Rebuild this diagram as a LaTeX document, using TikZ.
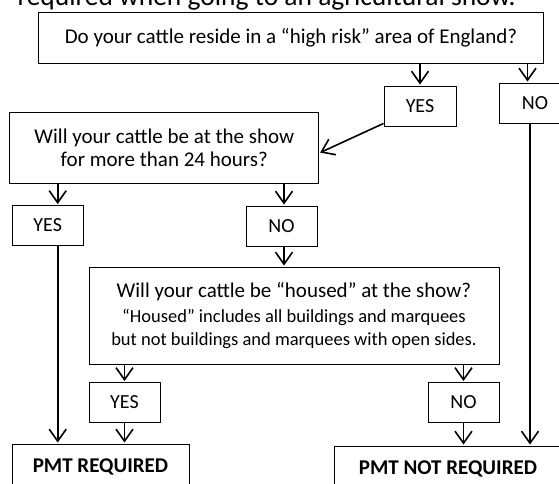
\documentclass[tikz,border=0pt]{standalone}
\usepackage{fontspec}
\setmainfont{Carlito}
\usetikzlibrary{arrows.meta}

\begin{document}
\begin{tikzpicture}[x=1pt, y=-1pt,
	box/.style = {draw, line width=0.9pt, align=center, inner sep=0pt, font=\fontsize{21}{23}\selectfont},
	answer/.style = {draw, line width=0.9pt, inner sep=0pt, minimum width=71pt, minimum height=40pt, font=\fontsize{20}{22}\selectfont},
	flow/.style = {line width=1.6pt, shorten >=1pt, -{Straight Barb[length=12pt, width=17pt]}}]
			\clip (0,0) rectangle (559,484);
			\node[anchor=base west, font=\fontsize{27.5}{30}\selectfont] (title) at (14,6) {required when going to an agricultural show.};
			
			\node[box, minimum width=505pt, minimum height=51pt] (risk) at (291,37.5) {Do your cattle reside in a “high risk” area of England?};
			\node[answer, minimum width=72pt] (yesA) at (420,106) {YES};
			\node[answer, minimum width=72pt] (noA) at (535,103) {NO};
			
			\node[box, minimum width=309pt, minimum height=71pt] (hours) at (164.3,147.5) {Will your cattle be at the show\\for more than 24 hours?};
			\node[answer] (yesB) at (47.7,225.5) {YES};
			\node[answer] (noB) at (281.5,226) {NO};
			
			\node[box, minimum width=410pt, minimum height=97pt] (housed) at (294,315.5) {Will your cattle be “housed” at the show?\\[2pt]
				{\fontsize{18.5}{22}\selectfont “Housed” includes all buildings and marquees}\\
				{\fontsize{18.5}{22}\selectfont but not buildings and marquees with open sides.}};
			\node[answer] (yesC) at (124.5,402.5) {YES};
			\node[answer] (noC) at (463.5,402.5) {NO};
			
			\node[box, font=\bfseries\fontsize{21}{23}\selectfont, minimum width=177pt, minimum height=45pt] (req) at (100.5,466.5) {PMT REQUIRED};
			\node[box, font=\bfseries\fontsize{21}{23}\selectfont, minimum width=228pt, minimum height=45pt] (notreq) at (448,468.5) {PMT NOT REQUIRED};
			
			\draw[flow] (risk.south -| yesA.north) -- (yesA.north);
			\draw[flow] ([xshift=-7.5pt]noA.north |- risk.south) -- ([xshift=-7.5pt]noA.north);
			\draw[flow] ([yshift=3pt]yesA.south west) -- ([yshift=-5.5pt]hours.east);
			\draw[flow] ([xshift=-5pt]noA.south) -- ([xshift=-5pt]noA.south |- notreq.north);
			
			\draw[flow] ([xshift=10pt]yesB.north |- hours.south) -- ([xshift=10pt]yesB.north);
			\draw[flow] ([xshift=2.5pt]noB.north |- hours.south) -- ([xshift=2.5pt]noB.north);
			\draw[flow] ([xshift=10pt]yesB.south) -- ([xshift=10pt]yesB.south |- req.north);
			\draw[flow] ([xshift=2.5pt]noB.south) -- ([xshift=2.5pt]noB.south |- housed.north);
			
			\draw[flow] (yesC.north |- housed.south) -- (yesC.north);
			\draw[flow] (noC.north |- housed.south) -- (noC.north);
			\draw[flow] (yesC.south) -- (yesC.south |- req.north);
			\draw[flow] (noC.south) -- (noC.south |- notreq.north);
\end{tikzpicture}
\end{document}
